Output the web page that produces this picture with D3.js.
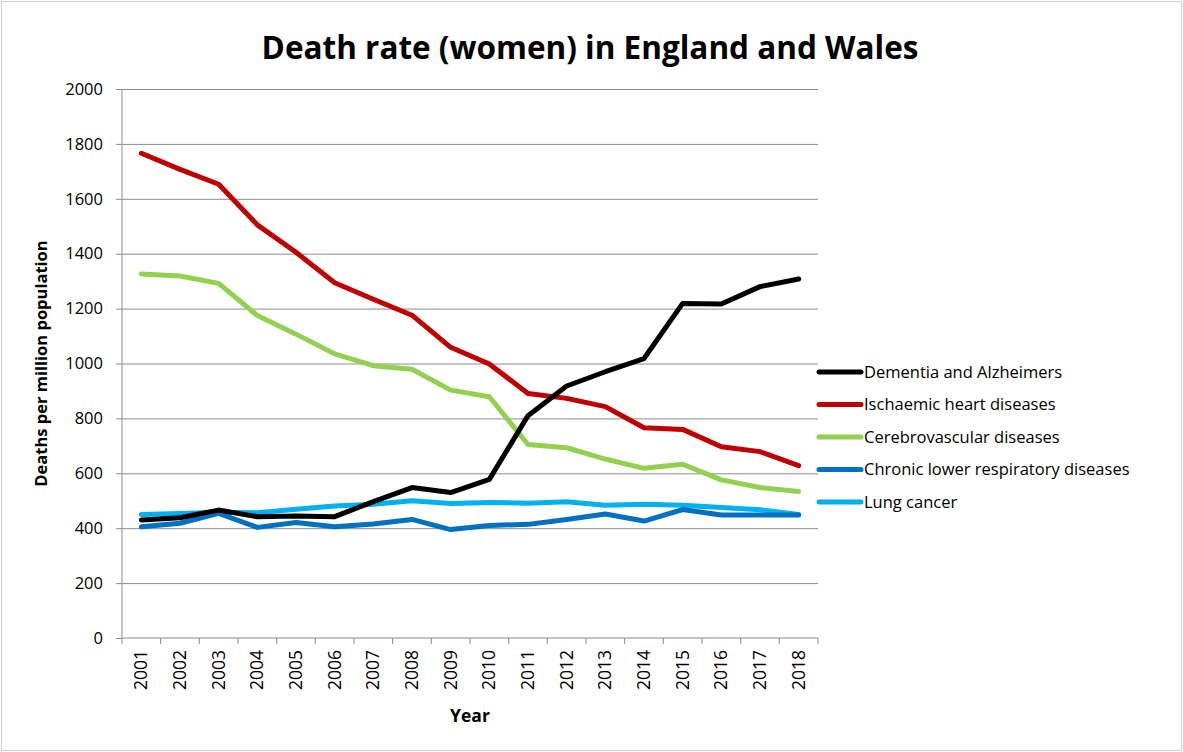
<!DOCTYPE html>
<html>
<head>
<meta charset="utf-8">
<script src="https://cdn.jsdelivr.net/npm/d3@7"></script>
<style>
  body { margin: 0; background: #fff; }
  text { font-family: "Open Sans", "Liberation Sans", sans-serif; fill: #000; }
  .grid line { stroke: #8c8c8c; stroke-width: 1; }
  .grid path { display: none; }
  .axis path, .axis line { stroke: #8c8c8c; stroke-width: 1; }
  .series { fill: none; stroke-width: 5; stroke-linejoin: round; stroke-linecap: round; }
</style>
</head>
<body>
<svg id="chart" width="1183" height="752"></svg>
<script>
"use strict";

var years = ["2001", "2002", "2003", "2004", "2005", "2006", "2007", "2008", "2009",
             "2010", "2011", "2012", "2013", "2014", "2015", "2016", "2017", "2018"];

var dementia = [430, 438, 466, 442, 444, 442, 497, 548, 530, 578, 810, 918, 970, 1018, 1219, 1217, 1280, 1308];
var ischaemic = [1766, 1707, 1653, 1505, 1405, 1294, 1234, 1176, 1059, 998, 891, 873, 843, 766, 760, 697, 679, 628];
var cerebro = [1326, 1319, 1292, 1175, 1107, 1035, 992, 979, 903, 879, 705, 693, 652, 618, 633, 576, 548, 534];
var chronic = [405, 418, 454, 403, 421, 405, 415, 432, 395, 410, 414, 432, 452, 426, 468, 448, 448, 448];
var lung = [450, 454, 458, 456, 469, 481, 487, 500, 490, 494, 491, 496, 484, 487, 484, 475, 467, 450];

var seriesNames = ["Dementia and Alzheimers", "Ischaemic heart diseases", "Cerebrovascular diseases",
                   "Chronic lower respiratory diseases", "Lung cancer"];
var seriesColors = ["#000000", "#c00000", "#92d050", "#0070c0", "#00b0f0"];
var yTicks = [0, 200, 400, 600, 800, 1000, 1200, 1400, 1600, 1800, 2000];

var series = [dementia, ischaemic, cerebro, chronic, lung].map(function (values, i) {
    return { name: seriesNames[i], color: seriesColors[i], values: values };
});

var svg = d3.select("#chart");
var width = 1183, height = 752;
var plot = { left: 122, right: 818, top: 89, bottom: 638 };

// chart area border
svg.append("rect")
    .attr("x", 1.5).attr("y", 1.5)
    .attr("width", width - 3).attr("height", height - 3)
    .attr("fill", "#fff").attr("stroke", "#d0d0d0").attr("stroke-width", 1);

var x = d3.scaleBand().domain(years).range([plot.left, plot.right]);
var y = d3.scaleLinear().domain([0, 2000]).range([plot.bottom, plot.top]);

// gridlines
svg.append("g")
    .attr("class", "grid")
    .attr("transform", "translate(" + plot.left + ",0)")
    .call(d3.axisLeft(y).tickValues(yTicks.slice(1)).tickSize(-(plot.right - plot.left)).tickFormat(""));

// y axis
var yAxis = svg.append("g")
    .attr("class", "axis")
    .attr("transform", "translate(" + plot.left + ",0)")
    .call(d3.axisLeft(y).tickValues(yTicks).tickSize(6).tickPadding(13).tickFormat(d3.format("d")));
yAxis.select(".domain").attr("d", "M0," + plot.top + "V" + plot.bottom);
yAxis.selectAll("text").style("font-size", "16.5px");

// x axis baseline and labels
var xAxis = svg.append("g")
    .attr("class", "axis")
    .attr("transform", "translate(0," + plot.bottom + ")")
    .call(d3.axisBottom(x).tickSize(0).tickPadding(0));
xAxis.select(".domain").attr("d", "M" + plot.left + ",0H" + plot.right);
xAxis.selectAll("text")
    .style("font-size", "17.5px")
    .attr("text-anchor", "end")
    .attr("dy", null)
    .attr("transform", "translate(6,12) rotate(-90)");

// x category boundary ticks
var bounds = years.map(function (d) { return x(d); }).concat([plot.right]);
xAxis.selectAll("line.bound")
    .data(bounds)
    .enter().append("line")
    .attr("class", "bound")
    .attr("x1", function (d) { return d; })
    .attr("x2", function (d) { return d; })
    .attr("y1", 0).attr("y2", 6);

// lines
var line = d3.line()
    .x(function (d, i) { return x(years[i]) + x.bandwidth() / 2; })
    .y(function (d) { return y(d); });

svg.selectAll("path.series")
    .data(series.slice().reverse())
    .enter().append("path")
    .attr("class", "series")
    .attr("stroke", function (d) { return d.color; })
    .attr("d", function (d) { return line(d.values); });

// legend
var legend = svg.selectAll("g.legend")
    .data(series)
    .enter().append("g")
    .attr("class", "legend")
    .attr("transform", function (d, i) { return "translate(819," + (372 + i * 32.5) + ")"; });

legend.append("line")
    .attr("x1", 0).attr("x2", 42)
    .attr("stroke", function (d) { return d.color; })
    .attr("stroke-width", 5)
    .attr("stroke-linecap", "round");

legend.append("text")
    .attr("x", 45)
    .attr("dy", "0.35em")
    .style("font-size", "16.5px")
    .text(function (d) { return d.name; });

// titles
svg.append("text")
    .attr("x", 590).attr("y", 59)
    .attr("text-anchor", "middle")
    .style("font-size", "31.5px")
    .style("font-weight", "bold")
    .text("Death rate (women) in England and Wales");

svg.append("text")
    .attr("x", (plot.left + plot.right) / 2).attr("y", 722)
    .attr("text-anchor", "middle")
    .style("font-size", "17.5px")
    .style("font-weight", "bold")
    .text("Year");

svg.append("text")
    .attr("transform", "translate(47," + ((plot.top + plot.bottom) / 2) + ") rotate(-90)")
    .attr("text-anchor", "middle")
    .style("font-size", "16.5px")
    .style("font-weight", "bold")
    .text("Deaths per million population");
</script>
</body>
</html>
